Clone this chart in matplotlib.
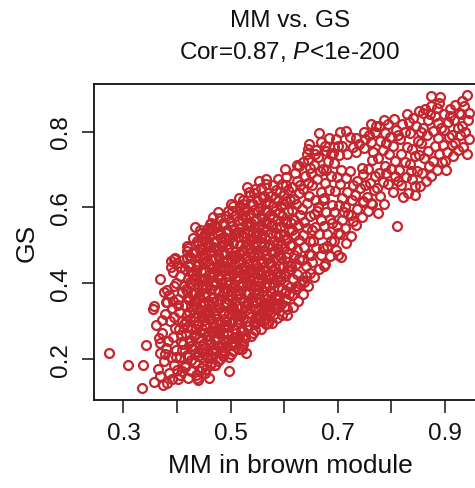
import matplotlib
matplotlib.use("Agg")
import matplotlib.pyplot as plt

plt.rcParams["font.family"] = ["Liberation Sans", "DejaVu Sans"]
plt.rcParams["mathtext.fontset"] = "custom"
plt.rcParams["mathtext.rm"] = "Liberation Sans"
plt.rcParams["mathtext.it"] = "Liberation Sans:italic"

RED = "#C4262E"
INK = "#111111"

# (MM, GS) pairs, grouped by region
left_tail = [
    (0.272, 0.216), (0.309, 0.185), (0.337, 0.184), (0.342, 0.239), (0.334, 0.124),
    (0.357, 0.140), (0.373, 0.132), (0.366, 0.255), (0.369, 0.244), (0.369, 0.218),
    (0.365, 0.174), (0.369, 0.155), (0.382, 0.139), (0.391, 0.147), (0.401, 0.147),
    (0.410, 0.170), (0.426, 0.169), (0.356, 0.332), (0.371, 0.303), (0.382, 0.350),
    (0.403, 0.324), (0.368, 0.412), (0.382, 0.382), (0.388, 0.442), (0.394, 0.463),
    (0.419, 0.498), (0.419, 0.485), (0.433, 0.548), (0.437, 0.511), (0.463, 0.560),
    (0.454, 0.529), (0.407, 0.444), (0.413, 0.393), (0.394, 0.393), (0.379, 0.350),
    (0.357, 0.340), (0.375, 0.378), (0.385, 0.370), (0.398, 0.400), (0.405, 0.420),
    (0.412, 0.462), (0.400, 0.455), (0.392, 0.430), (0.425, 0.470), (0.430, 0.520),
    (0.442, 0.540), (0.447, 0.505), (0.458, 0.545), (0.468, 0.575), (0.472, 0.552),
    (0.388, 0.458), (0.397, 0.468), (0.360, 0.290), (0.372, 0.270), (0.378, 0.320),
    (0.386, 0.300), (0.390, 0.335), (0.380, 0.230), (0.388, 0.205), (0.395, 0.185),
    (0.398, 0.225), (0.392, 0.260), (0.375, 0.195), (0.385, 0.165), (0.405, 0.160),
    (0.415, 0.180), (0.420, 0.150), (0.435, 0.160), (0.440, 0.145), (0.452, 0.165),
    (0.460, 0.150), (0.470, 0.184), (0.497, 0.169), (0.403, 0.280), (0.408, 0.245),
    (0.402, 0.360), (0.410, 0.300), (0.406, 0.205), (0.396, 0.282), (0.384, 0.248),
    (0.401, 0.342), (0.394, 0.312), (0.409, 0.378), (0.398, 0.205), (0.410, 0.225),
    (0.407, 0.265), (0.393, 0.355), (0.378, 0.213), (0.400, 0.172),
]

core = [
    (0.414, 0.185), (0.426, 0.198), (0.418, 0.212), (0.429, 0.226), (0.412, 0.240),
    (0.424, 0.251), (0.417, 0.266), (0.428, 0.279), (0.413, 0.292), (0.425, 0.305),
    (0.419, 0.318), (0.430, 0.331), (0.415, 0.344), (0.423, 0.357), (0.428, 0.372),
    (0.416, 0.386), (0.426, 0.398), (0.420, 0.412), (0.429, 0.425), (0.414, 0.438),
    (0.424, 0.451), (0.418, 0.466), (0.428, 0.480), (0.421, 0.494),
    (0.438, 0.152), (0.446, 0.178), (0.434, 0.192), (0.447, 0.205), (0.440, 0.219),
    (0.433, 0.233), (0.449, 0.241), (0.441, 0.256), (0.435, 0.268), (0.447, 0.279),
    (0.439, 0.293), (0.450, 0.304), (0.433, 0.312), (0.444, 0.324), (0.437, 0.338),
    (0.448, 0.349), (0.441, 0.361), (0.434, 0.374), (0.446, 0.385), (0.439, 0.398),
    (0.450, 0.409), (0.435, 0.421), (0.445, 0.433), (0.438, 0.446), (0.449, 0.457),
    (0.442, 0.470), (0.434, 0.483), (0.447, 0.492), (0.440, 0.506), (0.449, 0.520),
    (0.444, 0.533),
    (0.455, 0.175), (0.463, 0.190), (0.458, 0.204), (0.468, 0.216), (0.453, 0.229),
    (0.462, 0.240), (0.469, 0.253), (0.456, 0.262), (0.464, 0.275), (0.452, 0.287),
    (0.467, 0.296), (0.459, 0.308), (0.470, 0.319), (0.454, 0.329), (0.463, 0.341),
    (0.457, 0.353), (0.468, 0.362), (0.452, 0.374), (0.461, 0.384), (0.469, 0.396),
    (0.456, 0.406), (0.464, 0.418), (0.453, 0.430), (0.467, 0.440), (0.459, 0.452),
    (0.470, 0.463), (0.455, 0.474), (0.463, 0.486), (0.457, 0.498), (0.468, 0.509),
    (0.460, 0.521), (0.453, 0.534), (0.466, 0.545), (0.461, 0.557),
    (0.476, 0.195), (0.486, 0.208), (0.473, 0.221), (0.482, 0.233), (0.489, 0.246),
    (0.477, 0.256), (0.485, 0.268), (0.474, 0.280), (0.488, 0.290), (0.480, 0.302),
    (0.473, 0.314), (0.487, 0.323), (0.479, 0.335), (0.490, 0.346), (0.475, 0.356),
    (0.484, 0.367), (0.478, 0.379), (0.489, 0.389), (0.473, 0.400), (0.483, 0.411),
    (0.477, 0.423), (0.488, 0.433), (0.474, 0.445), (0.485, 0.456), (0.479, 0.467),
    (0.490, 0.477), (0.476, 0.489), (0.484, 0.500), (0.473, 0.512), (0.487, 0.522),
    (0.480, 0.535), (0.475, 0.548), (0.486, 0.560), (0.481, 0.573), (0.477, 0.587),
    (0.497, 0.205), (0.505, 0.221), (0.493, 0.234), (0.503, 0.247), (0.509, 0.259),
    (0.496, 0.268), (0.506, 0.280), (0.494, 0.291), (0.502, 0.302), (0.510, 0.313),
    (0.498, 0.323), (0.505, 0.334), (0.493, 0.345), (0.508, 0.355), (0.500, 0.366),
    (0.494, 0.377), (0.506, 0.387), (0.499, 0.398), (0.510, 0.408), (0.495, 0.419),
    (0.503, 0.430), (0.497, 0.441), (0.508, 0.451), (0.493, 0.462), (0.502, 0.473),
    (0.509, 0.484), (0.496, 0.494), (0.505, 0.506), (0.498, 0.517), (0.507, 0.529),
    (0.494, 0.540), (0.503, 0.552), (0.499, 0.565), (0.508, 0.577), (0.496, 0.590),
    (0.504, 0.603),
    (0.516, 0.226), (0.524, 0.240), (0.513, 0.254), (0.527, 0.265), (0.519, 0.277),
    (0.530, 0.289), (0.514, 0.298), (0.523, 0.309), (0.518, 0.320), (0.529, 0.331),
    (0.512, 0.341), (0.525, 0.351), (0.517, 0.362), (0.528, 0.373), (0.514, 0.383),
    (0.522, 0.394), (0.530, 0.404), (0.516, 0.414), (0.524, 0.425), (0.513, 0.436),
    (0.527, 0.446), (0.519, 0.457), (0.530, 0.467), (0.515, 0.478), (0.523, 0.489),
    (0.518, 0.500), (0.528, 0.511), (0.513, 0.522), (0.525, 0.533), (0.519, 0.545),
    (0.529, 0.556), (0.515, 0.567), (0.522, 0.579), (0.527, 0.592), (0.517, 0.605),
    (0.524, 0.620),
    (0.538, 0.262), (0.546, 0.276), (0.534, 0.289), (0.543, 0.300), (0.549, 0.312),
    (0.536, 0.322), (0.545, 0.333), (0.533, 0.344), (0.548, 0.354), (0.540, 0.365),
    (0.535, 0.376), (0.547, 0.386), (0.539, 0.397), (0.550, 0.407), (0.534, 0.418),
    (0.543, 0.428), (0.537, 0.439), (0.548, 0.449), (0.533, 0.460), (0.542, 0.471),
    (0.549, 0.481), (0.536, 0.492), (0.545, 0.503), (0.538, 0.514), (0.547, 0.525),
    (0.534, 0.536), (0.543, 0.547), (0.539, 0.559), (0.548, 0.570), (0.535, 0.582),
    (0.544, 0.594), (0.540, 0.607), (0.549, 0.620), (0.536, 0.633), (0.546, 0.648),
    (0.557, 0.280), (0.566, 0.293), (0.553, 0.306), (0.562, 0.317), (0.569, 0.328),
    (0.556, 0.338), (0.565, 0.349), (0.554, 0.360), (0.568, 0.370), (0.560, 0.381),
    (0.553, 0.392), (0.566, 0.402), (0.558, 0.413), (0.570, 0.423), (0.555, 0.434),
    (0.563, 0.444), (0.557, 0.455), (0.568, 0.465), (0.553, 0.476), (0.562, 0.487),
    (0.569, 0.497), (0.556, 0.508), (0.565, 0.519), (0.558, 0.530), (0.567, 0.541),
    (0.554, 0.552), (0.563, 0.563), (0.559, 0.575), (0.568, 0.587), (0.555, 0.599),
    (0.564, 0.611), (0.560, 0.624), (0.569, 0.637), (0.556, 0.650), (0.566, 0.662),
    (0.577, 0.296), (0.586, 0.310), (0.574, 0.323), (0.583, 0.335), (0.589, 0.347),
    (0.576, 0.358), (0.585, 0.369), (0.573, 0.381), (0.588, 0.391), (0.580, 0.402),
    (0.575, 0.414), (0.587, 0.424), (0.579, 0.435), (0.590, 0.446), (0.574, 0.457),
    (0.583, 0.468), (0.577, 0.479), (0.588, 0.490), (0.573, 0.501), (0.582, 0.512),
    (0.589, 0.523), (0.576, 0.534), (0.585, 0.545), (0.578, 0.557), (0.587, 0.568),
    (0.574, 0.580), (0.583, 0.592), (0.579, 0.605), (0.588, 0.618), (0.575, 0.631),
    (0.584, 0.645), (0.580, 0.660), (0.589, 0.676),
    (0.597, 0.318), (0.605, 0.333), (0.594, 0.347), (0.603, 0.360), (0.609, 0.372),
    (0.596, 0.384), (0.606, 0.396), (0.593, 0.408), (0.602, 0.420), (0.608, 0.432),
    (0.598, 0.444), (0.605, 0.456), (0.594, 0.468), (0.607, 0.480), (0.600, 0.492),
    (0.595, 0.504), (0.606, 0.516), (0.599, 0.528), (0.609, 0.540), (0.594, 0.552),
    (0.603, 0.564), (0.597, 0.577), (0.608, 0.590), (0.595, 0.603), (0.604, 0.617),
    (0.599, 0.632), (0.607, 0.647), (0.596, 0.662), (0.603, 0.680), (0.601, 0.702),
    (0.617, 0.338), (0.626, 0.355), (0.614, 0.370), (0.623, 0.384), (0.629, 0.398),
    (0.616, 0.411), (0.625, 0.424), (0.613, 0.437), (0.622, 0.450), (0.628, 0.463),
    (0.618, 0.476), (0.624, 0.489), (0.614, 0.502), (0.627, 0.515), (0.620, 0.528),
    (0.615, 0.541), (0.626, 0.554), (0.619, 0.567), (0.629, 0.580), (0.614, 0.594),
    (0.623, 0.608), (0.618, 0.623), (0.627, 0.638), (0.615, 0.653), (0.624, 0.670),
    (0.620, 0.690), (0.628, 0.710),
]

core_fill = [
    (0.431, 0.262), (0.432, 0.300), (0.431, 0.355), (0.432, 0.410), (0.451, 0.215),
    (0.451, 0.270), (0.452, 0.318), (0.451, 0.366), (0.452, 0.415), (0.451, 0.468),
    (0.471, 0.230), (0.471, 0.285), (0.472, 0.330), (0.471, 0.382), (0.472, 0.436),
    (0.471, 0.493), (0.491, 0.250), (0.492, 0.300), (0.491, 0.352), (0.492, 0.405),
    (0.491, 0.458), (0.492, 0.515), (0.511, 0.270), (0.512, 0.318), (0.511, 0.370),
    (0.512, 0.420), (0.511, 0.475), (0.512, 0.535), (0.531, 0.300), (0.532, 0.348),
    (0.531, 0.398), (0.532, 0.452), (0.531, 0.505), (0.532, 0.560), (0.551, 0.318),
    (0.552, 0.372), (0.551, 0.425), (0.552, 0.480), (0.551, 0.535), (0.552, 0.590),
    (0.571, 0.340), (0.572, 0.395), (0.571, 0.450), (0.572, 0.505), (0.571, 0.560),
    (0.572, 0.615), (0.591, 0.365), (0.592, 0.420), (0.591, 0.475), (0.592, 0.530),
    (0.591, 0.585), (0.592, 0.640), (0.611, 0.390), (0.612, 0.445), (0.611, 0.500),
    (0.612, 0.560), (0.611, 0.620),
    (0.420, 0.205), (0.424, 0.245), (0.419, 0.285), (0.423, 0.325), (0.421, 0.365),
    (0.425, 0.405), (0.420, 0.445), (0.443, 0.170), (0.439, 0.210), (0.444, 0.250),
    (0.440, 0.290), (0.445, 0.330), (0.441, 0.370), (0.444, 0.410), (0.439, 0.450),
    (0.443, 0.490), (0.461, 0.185), (0.465, 0.225), (0.460, 0.265), (0.464, 0.305),
    (0.459, 0.345), (0.463, 0.385), (0.461, 0.425), (0.465, 0.465), (0.460, 0.505),
    (0.463, 0.540), (0.481, 0.200), (0.484, 0.240), (0.480, 0.280), (0.485, 0.320),
    (0.481, 0.360), (0.483, 0.400), (0.480, 0.440), (0.484, 0.480), (0.482, 0.520),
    (0.485, 0.555), (0.501, 0.215), (0.504, 0.255), (0.500, 0.295), (0.503, 0.340),
    (0.501, 0.380), (0.505, 0.425), (0.500, 0.465), (0.504, 0.510), (0.501, 0.550),
    (0.503, 0.590), (0.521, 0.235), (0.524, 0.275), (0.520, 0.315), (0.525, 0.355),
    (0.521, 0.400), (0.523, 0.440), (0.520, 0.485), (0.524, 0.525), (0.521, 0.570),
    (0.523, 0.610), (0.541, 0.270), (0.545, 0.310), (0.540, 0.350), (0.544, 0.395),
    (0.541, 0.435), (0.543, 0.478), (0.540, 0.520), (0.544, 0.565), (0.542, 0.610),
    (0.561, 0.300), (0.564, 0.340), (0.560, 0.380), (0.565, 0.420), (0.561, 0.460),
    (0.563, 0.500), (0.560, 0.545), (0.564, 0.590), (0.562, 0.630), (0.581, 0.320),
    (0.584, 0.360), (0.580, 0.400), (0.583, 0.440), (0.581, 0.485), (0.585, 0.530),
    (0.580, 0.575), (0.583, 0.625), (0.601, 0.340), (0.604, 0.380), (0.600, 0.425),
    (0.603, 0.470), (0.601, 0.515), (0.604, 0.560), (0.600, 0.610), (0.603, 0.660),
]

core_dense = [
    (0.427, 0.235), (0.416, 0.300), (0.427, 0.340), (0.418, 0.380), (0.427, 0.430),
    (0.445, 0.225), (0.436, 0.280), (0.447, 0.315), (0.436, 0.355), (0.447, 0.395),
    (0.436, 0.435), (0.446, 0.475), (0.466, 0.205), (0.456, 0.250), (0.467, 0.285),
    (0.455, 0.320), (0.467, 0.350), (0.455, 0.395), (0.467, 0.430), (0.456, 0.460),
    (0.467, 0.495), (0.486, 0.225), (0.476, 0.270), (0.487, 0.305), (0.476, 0.345),
    (0.487, 0.375), (0.476, 0.415), (0.487, 0.445), (0.476, 0.475), (0.487, 0.510),
    (0.477, 0.530), (0.507, 0.240), (0.496, 0.285), (0.507, 0.325), (0.496, 0.360),
    (0.507, 0.395), (0.496, 0.435), (0.507, 0.470), (0.496, 0.505), (0.507, 0.540),
    (0.527, 0.255), (0.516, 0.305), (0.527, 0.340), (0.516, 0.375), (0.527, 0.415),
    (0.516, 0.450), (0.527, 0.495), (0.516, 0.535), (0.527, 0.575), (0.547, 0.295),
    (0.536, 0.335), (0.547, 0.370), (0.536, 0.410), (0.547, 0.440), (0.536, 0.480),
    (0.547, 0.510), (0.536, 0.550), (0.567, 0.310), (0.556, 0.355), (0.567, 0.390),
    (0.556, 0.425), (0.567, 0.475), (0.556, 0.520), (0.567, 0.560), (0.587, 0.335),
    (0.576, 0.375), (0.587, 0.410), (0.576, 0.445), (0.587, 0.505), (0.576, 0.550),
]

core_edges = [
    (0.553, 0.670), (0.566, 0.674), (0.544, 0.639), (0.625, 0.713), (0.644, 0.726),
    (0.647, 0.766), (0.645, 0.755), (0.666, 0.797), (0.678, 0.748), (0.691, 0.744),
    (0.700, 0.761), (0.605, 0.316), (0.569, 0.296), (0.544, 0.292), (0.585, 0.336),
    (0.573, 0.345), (0.516, 0.257), (0.522, 0.226), (0.528, 0.216), (0.470, 0.184),
    (0.500, 0.244), (0.488, 0.218), (0.518, 0.318), (0.555, 0.318), (0.560, 0.345),
    (0.675, 0.446), (0.650, 0.476), (0.681, 0.498), (0.637, 0.403), (0.625, 0.393),
    (0.588, 0.358), (0.700, 0.476), (0.675, 0.551), (0.700, 0.533), (0.500, 0.608),
    (0.491, 0.577), (0.525, 0.595), (0.469, 0.551), (0.515, 0.625), (0.535, 0.640),
    (0.530, 0.655),
]

mid_right = [
    (0.636, 0.372), (0.645, 0.392), (0.633, 0.410), (0.648, 0.428), (0.640, 0.445),
    (0.634, 0.462), (0.646, 0.478), (0.638, 0.495), (0.649, 0.512), (0.635, 0.528),
    (0.643, 0.545), (0.637, 0.562), (0.648, 0.578), (0.633, 0.595), (0.642, 0.612),
    (0.647, 0.630), (0.636, 0.648), (0.644, 0.665), (0.639, 0.684), (0.648, 0.703),
    (0.635, 0.720), (0.643, 0.740),
    (0.656, 0.418), (0.665, 0.438), (0.653, 0.457), (0.668, 0.475), (0.660, 0.493),
    (0.654, 0.512), (0.666, 0.530), (0.658, 0.548), (0.669, 0.566), (0.655, 0.584),
    (0.663, 0.602), (0.657, 0.621), (0.668, 0.640), (0.653, 0.658), (0.662, 0.676),
    (0.667, 0.695), (0.656, 0.713), (0.664, 0.733), (0.659, 0.752), (0.668, 0.772),
    (0.676, 0.452), (0.685, 0.472), (0.673, 0.492), (0.688, 0.511), (0.680, 0.530),
    (0.674, 0.550), (0.686, 0.569), (0.678, 0.588), (0.689, 0.607), (0.675, 0.626),
    (0.683, 0.645), (0.677, 0.664), (0.688, 0.683), (0.673, 0.702), (0.682, 0.722),
    (0.687, 0.742), (0.676, 0.762), (0.684, 0.783),
    (0.697, 0.489), (0.706, 0.470), (0.694, 0.512), (0.705, 0.530), (0.699, 0.550),
    (0.708, 0.568), (0.693, 0.588), (0.703, 0.606), (0.709, 0.625), (0.696, 0.644),
    (0.704, 0.662), (0.698, 0.681), (0.707, 0.700), (0.694, 0.718), (0.702, 0.738),
    (0.708, 0.761), (0.697, 0.780), (0.705, 0.800),
    (0.641, 0.420), (0.652, 0.540), (0.661, 0.590), (0.672, 0.620), (0.650, 0.690),
    (0.679, 0.700), (0.657, 0.740), (0.690, 0.560), (0.630, 0.660), (0.694, 0.760),
]

upper_right = [
    (0.716, 0.507), (0.725, 0.525), (0.713, 0.545), (0.728, 0.564), (0.720, 0.583),
    (0.714, 0.602), (0.726, 0.620), (0.718, 0.640), (0.729, 0.658), (0.715, 0.677),
    (0.723, 0.695), (0.717, 0.740), (0.728, 0.760), (0.716, 0.801), (0.724, 0.785),
    (0.734, 0.553), (0.745, 0.575), (0.736, 0.595), (0.748, 0.614), (0.733, 0.633),
    (0.742, 0.652), (0.737, 0.670), (0.747, 0.688), (0.734, 0.783), (0.750, 0.757),
    (0.750, 0.799), (0.740, 0.768), (0.745, 0.705),
    (0.763, 0.772), (0.772, 0.815), (0.756, 0.590), (0.765, 0.608), (0.754, 0.628),
    (0.768, 0.646), (0.760, 0.665), (0.770, 0.684), (0.757, 0.702), (0.766, 0.745),
    (0.758, 0.790), (0.769, 0.800),
    (0.775, 0.586), (0.787, 0.608), (0.780, 0.630), (0.773, 0.650), (0.785, 0.668),
    (0.778, 0.690), (0.788, 0.710), (0.776, 0.730), (0.784, 0.752), (0.779, 0.775),
    (0.788, 0.795), (0.777, 0.815), (0.786, 0.830),
    (0.811, 0.551), (0.805, 0.833), (0.803, 0.640), (0.795, 0.662), (0.808, 0.682),
    (0.799, 0.702), (0.807, 0.722), (0.796, 0.742), (0.804, 0.762), (0.798, 0.785),
    (0.809, 0.805), (0.795, 0.820),
    (0.822, 0.628), (0.831, 0.639), (0.818, 0.660), (0.828, 0.680), (0.815, 0.700),
    (0.825, 0.720), (0.819, 0.740), (0.830, 0.760), (0.816, 0.780), (0.826, 0.800),
    (0.821, 0.820), (0.829, 0.845),
    (0.844, 0.632), (0.844, 0.656), (0.853, 0.656), (0.838, 0.675), (0.848, 0.695),
    (0.835, 0.715), (0.845, 0.735), (0.839, 0.755), (0.850, 0.775), (0.836, 0.795),
    (0.846, 0.815), (0.841, 0.835), (0.852, 0.855), (0.859, 0.849),
    (0.865, 0.670), (0.858, 0.690), (0.870, 0.710), (0.862, 0.730), (0.868, 0.750),
    (0.856, 0.770), (0.866, 0.790), (0.860, 0.810), (0.869, 0.830), (0.864, 0.860),
    (0.875, 0.893), (0.875, 0.868), (0.875, 0.683),
    (0.885, 0.700), (0.878, 0.722), (0.889, 0.742), (0.881, 0.762), (0.887, 0.782),
    (0.879, 0.802), (0.888, 0.822), (0.882, 0.842), (0.892, 0.891), (0.886, 0.862),
    (0.890, 0.875),
    (0.900, 0.722), (0.905, 0.745), (0.897, 0.765), (0.908, 0.785), (0.899, 0.805),
    (0.906, 0.825), (0.898, 0.845), (0.909, 0.860), (0.902, 0.698),
    (0.919, 0.770), (0.915, 0.735), (0.925, 0.752), (0.913, 0.790), (0.924, 0.810),
    (0.917, 0.830), (0.926, 0.850), (0.920, 0.870),
    (0.942, 0.895), (0.936, 0.868), (0.944, 0.830), (0.938, 0.800), (0.945, 0.780),
    (0.935, 0.760), (0.941, 0.740), (0.933, 0.815), (0.946, 0.850), (0.931, 0.845),
    (0.763, 0.611), (0.747, 0.617), (0.725, 0.580), (0.711, 0.588),
    (0.735, 0.745), (0.752, 0.780), (0.762, 0.820), (0.790, 0.770), (0.812, 0.790),
    (0.833, 0.825), (0.855, 0.800), (0.872, 0.845), (0.893, 0.810), (0.910, 0.840),
    (0.928, 0.790), (0.933, 0.880), (0.913, 0.765), (0.895, 0.720), (0.852, 0.738),
    (0.837, 0.695), (0.812, 0.670), (0.790, 0.690), (0.765, 0.725), (0.752, 0.660),
]

x_ticks = [0.3, 0.4, 0.5, 0.6, 0.7, 0.8, 0.9]
x_tick_labels = ["0.3", "", "0.5", "", "0.7", "", "0.9"]
y_ticks = [0.2, 0.4, 0.6, 0.8]
y_tick_labels = ["0.2", "0.4", "0.6", "0.8"]

points = left_tail + core + core_fill + core_dense + core_edges + mid_right + upper_right
mm = [p[0] for p in points]
gs = [p[1] for p in points]

fig = plt.figure(figsize=(4.75, 4.89), dpi=100)
fig.patch.set_facecolor("white")
ax = fig.add_axes([0.198, 0.180, 0.825, 0.646])
ax.plot(mm, gs, "o", ls="none", mfc="none", mec=RED, ms=6.4, mew=1.6)

ax.set_xlim(0.245, 0.977)
ax.set_ylim(0.093, 0.925)
ax.set_xticks(x_ticks)
ax.set_xticklabels(x_tick_labels)
ax.set_yticks(y_ticks)
ax.set_yticklabels(y_tick_labels, rotation=90, va="center")
ax.tick_params(length=9, width=1.1, colors=INK, labelsize=17.5, pad=7)
for s in ax.spines.values():
    s.set_linewidth(1.3)
    s.set_color(INK)

ax.set_xlabel("MM in brown module", fontsize=19, color=INK, labelpad=6)
ax.set_ylabel("GS", fontsize=19, color=INK, labelpad=8)

fig.text(0.61, 0.958, "MM vs. GS", ha="center", va="center", fontsize=17.5, color=INK)
fig.text(0.61, 0.893, r"Cor=0.87, $\mathit{P}$<1e-200", ha="center", va="center",
         fontsize=17.5, color=INK)

fig.savefig("out.png", dpi=100, facecolor="white")
